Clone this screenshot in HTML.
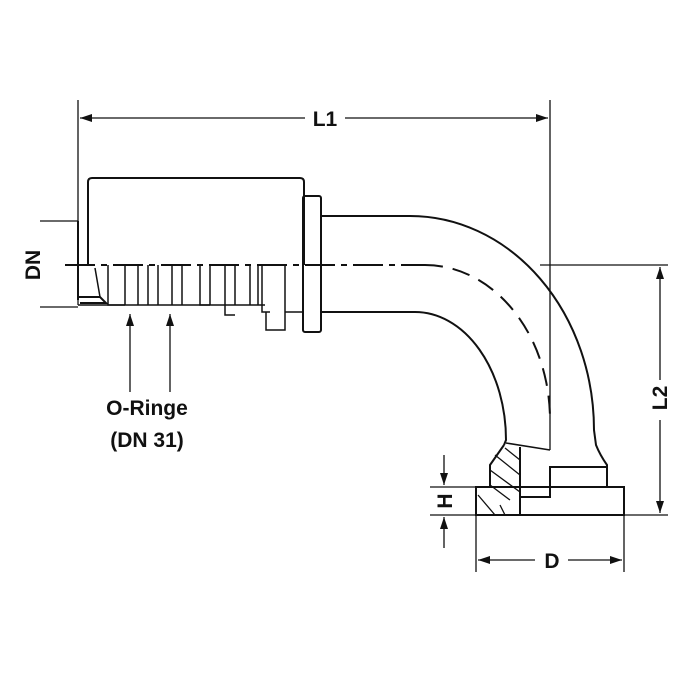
<!DOCTYPE html>
<html><head><style>body{margin:0;background:#fff}svg{display:block}</style></head><body>
<svg width="700" height="700" viewBox="0 0 700 700" xmlns="http://www.w3.org/2000/svg">
<defs><marker id="a" markerWidth="12" markerHeight="8" refX="12" refY="4" orient="auto-start-reverse" markerUnits="userSpaceOnUse"><path d="M0,0 L12,4 L0,8z" fill="#111"/></marker></defs>
<g stroke="#111" fill="none" stroke-width="1.3">
<!-- L1 -->
<line x1="78" y1="100" x2="78" y2="305"/>
<line x1="550" y1="100" x2="550" y2="450"/>
<line x1="80" y1="118" x2="305" y2="118" marker-start="url(#a)"/>
<line x1="345" y1="118" x2="548" y2="118" marker-end="url(#a)"/>
<!-- DN -->
<line x1="40" y1="221" x2="78" y2="221"/>
<line x1="40" y1="307" x2="78" y2="307"/>
<!-- centerline -->
<line x1="65" y1="265" x2="425" y2="265" stroke-width="2" stroke-dasharray="30,6,6,6"/>
<line x1="540" y1="265" x2="668" y2="265"/>
<path d="M425 265 A125 155 0 0 1 550 420" stroke-width="2" stroke-dasharray="18,10"/>
<!-- L2 -->
<line x1="430" y1="515" x2="668" y2="515"/>
<line x1="660" y1="267" x2="660" y2="380" marker-start="url(#a)"/>
<line x1="660" y1="420" x2="660" y2="513" marker-end="url(#a)"/>
<!-- body -->
<path d="M78 221 V300 M88 265 V182 Q88 178 92 178 H300 Q304 178 304 182 V265" stroke-width="2"/>
<path d="M78 297 L100 297 L106 303 L80 303" stroke-width="2"/>
<path d="M95 268 L100 297 M108 265 V305 H125 M125 265 V305 M138 265 V305 M148 265 V305 M158 265 V305 M172 265 V305 M182 265 V305 M200 265 V305 H210 M210 265 V305 M225 265 V315 H235 M235 265 V305 M250 265 V305 M258 265 V305 M262 265 V312 H270 M266 312 V330 H285 V312 H302 M285 265 V330" stroke-width="1.5"/>
<line x1="78" y1="305" x2="265" y2="305" stroke-width="1.5"/>
<rect x="303" y="196" width="18" height="136" rx="2" stroke-width="2"/>
<!-- tube -->
<path d="M321 216 H410 A184 214 0 0 1 594 430 L596 445 Q600 455 607 465 V487" stroke-width="2"/>
<path d="M321 312 H415 A91 128 0 0 1 506 440 L504 445" stroke-width="2"/>
<path d="M506 443 L550 450" stroke-width="1.5"/>
<!-- flange -->
<path d="M550 487 V467 H607 V487" stroke-width="2"/>
<rect x="476" y="487" width="148" height="28" stroke-width="2"/>
<path d="M504 445 L490 465 V487 H476 V515 H520 V497 H550 V487 M520 447 V497" stroke-width="2"/>
<path d="M495 455 L520 475 M490 470 L520 492 M490 485 L510 500 M478 495 L495 515 M500 505 L505 515 M505 448 L520 460" stroke-width="1.3"/>
<!-- H -->
<line x1="430" y1="487" x2="476" y2="487"/>
<line x1="444" y1="455" x2="444" y2="485" marker-end="url(#a)"/>
<line x1="444" y1="548" x2="444" y2="517" marker-end="url(#a)"/>
<!-- D -->
<line x1="476" y1="515" x2="476" y2="572"/>
<line x1="624" y1="515" x2="624" y2="572"/>
<line x1="478" y1="560" x2="535" y2="560" marker-start="url(#a)"/>
<line x1="568" y1="560" x2="622" y2="560" marker-end="url(#a)"/>
<!-- O-ring arrows -->
<line x1="130" y1="392" x2="130" y2="314" marker-end="url(#a)"/>
<line x1="170" y1="392" x2="170" y2="314" marker-end="url(#a)"/>
</g>
<g font-family="Liberation Sans, sans-serif" font-weight="bold" fill="#111" font-size="21">
<text x="325" y="126" text-anchor="middle">L1</text>
<text x="552" y="568" text-anchor="middle">D</text>
<text transform="translate(40,265) rotate(-90)" text-anchor="middle">DN</text>
<text transform="translate(667,398) rotate(-90)" text-anchor="middle">L2</text>
<text transform="translate(452,501) rotate(-90)" text-anchor="middle">H</text>
<text x="147" y="415" text-anchor="middle">O-Ringe</text>
<text x="147" y="447" text-anchor="middle">(DN 31)</text>
</g>
</svg>
</body></html>
